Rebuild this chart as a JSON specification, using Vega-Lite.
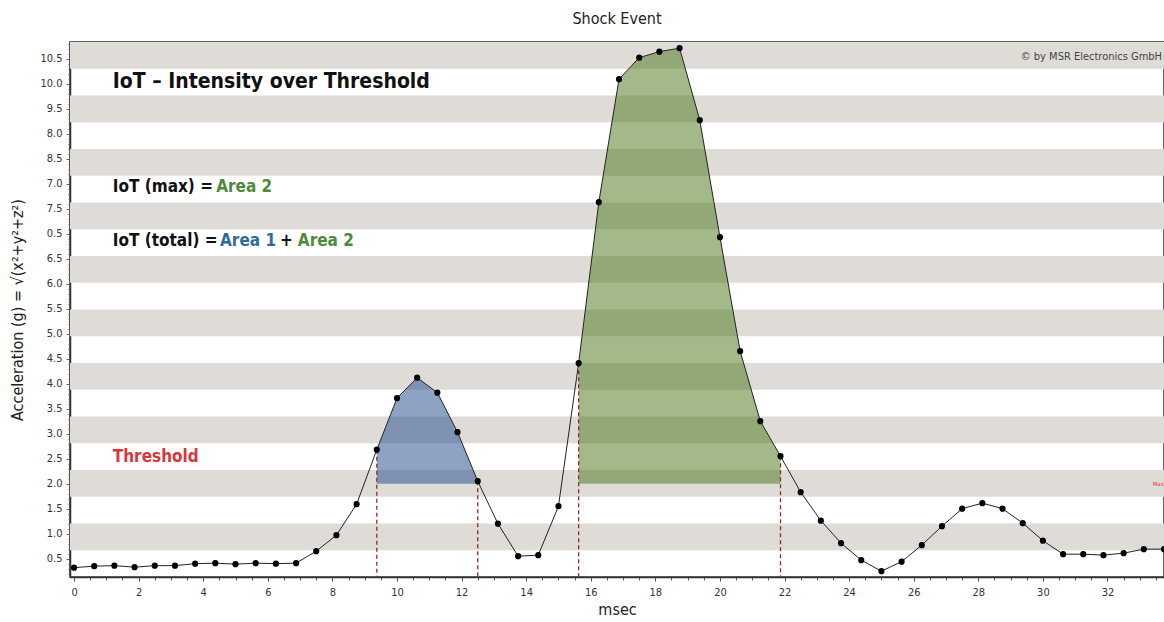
{
  "$schema": "https://vega.github.io/schema/vega-lite/v6.json",
  "width": 1094,
  "height": 535,
  "autosize": {"type": "none"},
  "padding": {"left": 70, "top": 42, "right": 0, "bottom": 45},
  "background": "white",
  "config": {
    "font": "DejaVu Sans Condensed, DejaVu Sans, sans-serif",
    "view": {"stroke": "#333", "strokeWidth": 1.5},
    "axis": {"labelOverlap": false, "labelBound": false, "labelFlush": false}
  },
  "title": {"text": "Shock Event", "fontSize": 16, "fontWeight": "normal", "color": "#222", "offset": 11, "font": "DejaVu Sans Condensed, DejaVu Sans, sans-serif"},
  "datasets": {
    "signal": [
      {"t": 0, "g": 0.32}, {"t": 0.625, "g": 0.35}, {"t": 1.25, "g": 0.36}, {"t": 1.875, "g": 0.33},
      {"t": 2.5, "g": 0.36}, {"t": 3.125, "g": 0.36}, {"t": 3.75, "g": 0.40}, {"t": 4.375, "g": 0.41},
      {"t": 5.0, "g": 0.39}, {"t": 5.625, "g": 0.41}, {"t": 6.25, "g": 0.40}, {"t": 6.875, "g": 0.41},
      {"t": 7.5, "g": 0.65}, {"t": 8.125, "g": 0.97}, {"t": 8.75, "g": 1.59},
      {"t": 9.375, "g": 2.68, "region": "A1", "edge": true},
      {"t": 10.0, "g": 3.71, "region": "A1"}, {"t": 10.625, "g": 4.12, "region": "A1"},
      {"t": 11.25, "g": 3.82, "region": "A1"}, {"t": 11.875, "g": 3.03, "region": "A1"},
      {"t": 12.5, "g": 2.05, "region": "A1", "edge": true},
      {"t": 13.125, "g": 1.20}, {"t": 13.75, "g": 0.55}, {"t": 14.375, "g": 0.57}, {"t": 15.0, "g": 1.55},
      {"t": 15.625, "g": 4.41, "region": "A2", "edge": true},
      {"t": 16.25, "g": 7.63, "region": "A2"}, {"t": 16.875, "g": 10.09, "region": "A2"},
      {"t": 17.5, "g": 10.52, "region": "A2"}, {"t": 18.125, "g": 10.64, "region": "A2"},
      {"t": 18.75, "g": 10.71, "region": "A2"}, {"t": 19.375, "g": 9.27, "region": "A2"},
      {"t": 20.0, "g": 6.93, "region": "A2"}, {"t": 20.625, "g": 4.65, "region": "A2"},
      {"t": 21.25, "g": 3.25, "region": "A2"},
      {"t": 21.875, "g": 2.55, "region": "A2", "edge": true},
      {"t": 22.5, "g": 1.83}, {"t": 23.125, "g": 1.26}, {"t": 23.75, "g": 0.81}, {"t": 24.375, "g": 0.47},
      {"t": 25.0, "g": 0.25}, {"t": 25.625, "g": 0.44}, {"t": 26.25, "g": 0.77}, {"t": 26.875, "g": 1.15},
      {"t": 27.5, "g": 1.50}, {"t": 28.125, "g": 1.61}, {"t": 28.75, "g": 1.50}, {"t": 29.375, "g": 1.21},
      {"t": 30.0, "g": 0.86}, {"t": 30.625, "g": 0.59}, {"t": 31.25, "g": 0.59}, {"t": 31.875, "g": 0.57},
      {"t": 32.5, "g": 0.61}, {"t": 33.125, "g": 0.69}, {"t": 33.75, "g": 0.69}
    ],
    "bands": [
      {"lo": 0.668, "hi": 1.203}, {"lo": 1.738, "hi": 2.273}, {"lo": 2.808, "hi": 3.343},
      {"lo": 3.878, "hi": 4.413}, {"lo": 4.948, "hi": 5.483}, {"lo": 6.018, "hi": 6.553},
      {"lo": 7.088, "hi": 7.623}, {"lo": 8.158, "hi": 8.693}, {"lo": 9.228, "hi": 9.763},
      {"lo": 10.298, "hi": 10.833}
    ],
    "notes": [
      {"x": 1.2, "y": 10.03, "text": "IoT – Intensity over Threshold", "kind": "big"},
      {"x": 1.2, "y": 7.93, "text": "IoT (max) =", "kind": "mid"},
      {"x": 4.4, "y": 7.93, "text": "Area 2", "kind": "green"},
      {"x": 1.2, "y": 6.85, "text": "IoT (total) =", "kind": "mid"},
      {"x": 4.52, "y": 6.85, "text": "Area 1", "kind": "blue"},
      {"x": 6.38, "y": 6.85, "text": "+", "kind": "mid"},
      {"x": 6.93, "y": 6.85, "text": "Area 2", "kind": "green"},
      {"x": 1.2, "y": 2.53, "text": "Threshold", "kind": "red"},
      {"x": 33.69, "y": 10.53, "text": "© by MSR Electronics GmbH", "kind": "copy"},
      {"x": 33.4, "y": 2.0, "text": "Max", "kind": "tiny"}
    ]
  },
  "layer": [
    {
      "data": {"name": "bands"},
      "mark": {"type": "rect", "color": "#dfdcd8"},
      "encoding": {
        "y": {
          "field": "lo", "type": "quantitative",
          "scale": {"domain": [0.133, 10.833], "nice": false, "zero": false},
          "axis": {
            "title": "Acceleration (g) = √(x²+y²+z²)",
            "titleFontSize": 16, "titleFontWeight": "normal", "titleColor": "#222", "titlePadding": 14,
            "tickCount": 500,
            "values": [0.2,0.3,0.4,0.5,0.6,0.7,0.8,0.9,1,1.1,1.2,1.3,1.4,1.5,1.6,1.7,1.8,1.9,2,2.1,2.2,2.3,2.4,2.5,2.6,2.7,2.8,2.9,3,3.1,3.2,3.3,3.4,3.5,3.6,3.7,3.8,3.9,4,4.1,4.2,4.3,4.4,4.5,4.6,4.7,4.8,4.9,5,5.1,5.2,5.3,5.4,5.5,5.6,5.7,5.8,5.9,6,6.1,6.2,6.3,6.4,6.5,6.6,6.7,6.8,6.9,7,7.1,7.2,7.3,7.4,7.5,7.6,7.7,7.8,7.9,8,8.1,8.2,8.3,8.4,8.5,8.6,8.7,8.8,8.9,9,9.1,9.2,9.3,9.4,9.5,9.6,9.7,9.8,9.9,10,10.1,10.2,10.3,10.4,10.5,10.6,10.7,10.8],
            "labelExpr": "abs(datum.value*2 - round(datum.value*2)) > 0.01 ? '' : (abs(datum.value-9) < 0.01 ? '8.0' : (abs(datum.value-8) < 0.01 ? '7.0' : (abs(datum.value-7) < 0.01 ? '0.5' : format(datum.value, '.1f'))))",
            "labelOverlap": false,
            "labelFontSize": 11, "labelColor": "#333",
            "labelPadding": 4,
            "tickSize": {"condition": {"test": "abs(datum.value*2 - round(datum.value*2)) < 0.01", "value": 4}, "value": 2},
            "tickColor": "#666",
            "domainColor": "#333", "domainWidth": 1.5,
            "grid": false
          }
        },
        "y2": {"field": "hi"}
      }
    },
    {
      "data": {"name": "signal"},
      "transform": [{"filter": "datum.region == 'A1'"}],
      "mark": {"type": "area", "color": "#1d4587", "opacity": 0.5},
      "encoding": {
        "x": {
          "field": "t", "type": "quantitative",
          "scale": {"domain": [-0.125, 33.75], "nice": false, "zero": false},
          "axis": {
            "title": "msec",
            "titleFontSize": 16, "titleFontWeight": "normal", "titleColor": "#222", "titlePadding": 4,
            "tickCount": 500,
            "values": [0,0.5,1,1.5,2,2.5,3,3.5,4,4.5,5,5.5,6,6.5,7,7.5,8,8.5,9,9.5,10,10.5,11,11.5,12,12.5,13,13.5,14,14.5,15,15.5,16,16.5,17,17.5,18,18.5,19,19.5,20,20.5,21,21.5,22,22.5,23,23.5,24,24.5,25,25.5,26,26.5,27,27.5,28,28.5,29,29.5,30,30.5,31,31.5,32,32.5,33,33.5],
            "labelExpr": "datum.value % 2 == 0 ? format(datum.value, 'd') : ''",
            "labelOverlap": false,
            "labelFontSize": 11, "labelColor": "#333",
            "labelPadding": 5,
            "tickSize": {"condition": {"test": "datum.value % 2 == 0", "value": 4}, "value": 3},
            "tickColor": "#555",
            "domainColor": "#333", "domainWidth": 1.5,
            "grid": false
          }
        },
        "y": {"field": "g", "type": "quantitative"},
        "y2": {"datum": 2}
      }
    },
    {
      "data": {"name": "signal"},
      "transform": [{"filter": "datum.region == 'A2'"}],
      "mark": {"type": "area", "color": "#477315", "opacity": 0.5},
      "encoding": {
        "x": {"field": "t", "type": "quantitative"},
        "y": {"field": "g", "type": "quantitative"},
        "y2": {"datum": 2}
      }
    },
    {
      "data": {"name": "signal"},
      "transform": [{"filter": "datum.edge == true"}],
      "mark": {"type": "rule", "color": "#8c2c2c", "strokeDash": [4, 3], "strokeWidth": 1.3},
      "encoding": {
        "x": {"field": "t", "type": "quantitative"},
        "y": {"field": "g", "type": "quantitative"},
        "y2": {"datum": 0.133}
      }
    },
    {
      "mark": {"type": "rule", "color": "#e53a3a", "strokeDash": [4, 2], "strokeWidth": 1},
      "encoding": {"y": {"datum": 2}}
    },
    {
      "data": {"name": "signal"},
      "mark": {"type": "line", "color": "#222", "strokeWidth": 1},
      "encoding": {
        "x": {"field": "t", "type": "quantitative"},
        "y": {"field": "g", "type": "quantitative"}
      }
    },
    {
      "data": {"name": "signal"},
      "mark": {"type": "circle", "color": "#000", "opacity": 1, "size": 38},
      "encoding": {
        "x": {"field": "t", "type": "quantitative"},
        "y": {"field": "g", "type": "quantitative"}
      }
    },
    {
      "data": {"name": "notes"},
      "transform": [{"filter": "datum.kind == 'big'"}],
      "mark": {"type": "text", "align": "left", "baseline": "middle", "fontSize": 21, "fontWeight": "bold", "color": "#111"},
      "encoding": {"x": {"field": "x", "type": "quantitative"}, "y": {"field": "y", "type": "quantitative"}, "text": {"field": "text"}}
    },
    {
      "data": {"name": "notes"},
      "transform": [{"filter": "datum.kind == 'mid'"}],
      "mark": {"type": "text", "align": "left", "baseline": "middle", "fontSize": 17, "fontWeight": "bold", "color": "#111"},
      "encoding": {"x": {"field": "x", "type": "quantitative"}, "y": {"field": "y", "type": "quantitative"}, "text": {"field": "text"}}
    },
    {
      "data": {"name": "notes"},
      "transform": [{"filter": "datum.kind == 'green'"}],
      "mark": {"type": "text", "align": "left", "baseline": "middle", "fontSize": 17, "fontWeight": "bold", "color": "#4f8a3c"},
      "encoding": {"x": {"field": "x", "type": "quantitative"}, "y": {"field": "y", "type": "quantitative"}, "text": {"field": "text"}}
    },
    {
      "data": {"name": "notes"},
      "transform": [{"filter": "datum.kind == 'blue'"}],
      "mark": {"type": "text", "align": "left", "baseline": "middle", "fontSize": 17, "fontWeight": "bold", "color": "#2f6b9a"},
      "encoding": {"x": {"field": "x", "type": "quantitative"}, "y": {"field": "y", "type": "quantitative"}, "text": {"field": "text"}}
    },
    {
      "data": {"name": "notes"},
      "transform": [{"filter": "datum.kind == 'red'"}],
      "mark": {"type": "text", "align": "left", "baseline": "middle", "fontSize": 17, "fontWeight": "bold", "color": "#d8383a"},
      "encoding": {"x": {"field": "x", "type": "quantitative"}, "y": {"field": "y", "type": "quantitative"}, "text": {"field": "text"}}
    },
    {
      "data": {"name": "notes"},
      "transform": [{"filter": "datum.kind == 'copy'"}],
      "mark": {"type": "text", "align": "right", "baseline": "middle", "fontSize": 11, "color": "#444"},
      "encoding": {"x": {"field": "x", "type": "quantitative"}, "y": {"field": "y", "type": "quantitative"}, "text": {"field": "text"}}
    },
    {
      "data": {"name": "notes"},
      "transform": [{"filter": "datum.kind == 'tiny'"}],
      "mark": {"type": "text", "align": "left", "baseline": "middle", "fontSize": 6, "color": "#e53a3a"},
      "encoding": {"x": {"field": "x", "type": "quantitative"}, "y": {"field": "y", "type": "quantitative"}, "text": {"field": "text"}}
    }
  ]
}
